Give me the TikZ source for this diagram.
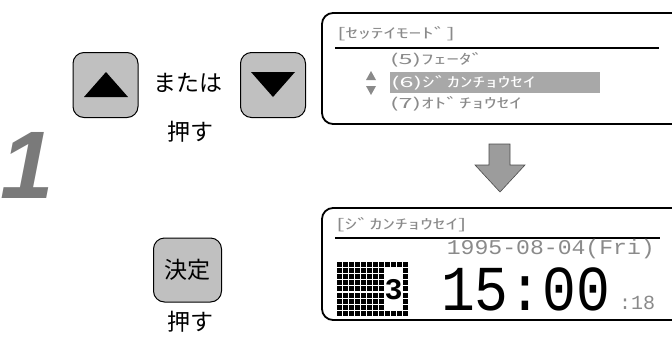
\documentclass[tikz,border=0pt]{standalone}
\usepackage{fontspec}
\setmainfont{Noto Sans CJK JP}
\newfontfamily\jpfont{Noto Sans CJK JP}
\newfontfamily\lcdfont{Noto Sans CJK JP}[FakeStretch=1.8]
\newfontfamily\monofont{Liberation Mono}
\newfontfamily\datefont{Liberation Mono}[FakeStretch=1.1]
\newfontfamily\clockfont{Liberation Mono}[FakeStretch=0.88]
\newfontfamily\numfont{Liberation Sans}
\definecolor{btngray}{HTML}{C0C0C0}
\definecolor{lcdtxt}{HTML}{8A8A8A}
\definecolor{hlgray}{HTML}{A8A8A8}
\definecolor{arrowgray}{HTML}{9C9C9C}
\definecolor{stepgray}{HTML}{7A7A7A}
\tikzset{
  btn/.style={draw=black, line width=1pt, fill=btngray, rounded corners=11pt, minimum width=65pt, minimum height=65pt, inner sep=0pt},
  lcdbox/.style={draw=black, line width=1.8pt, rounded corners=11pt},
  lcdline/.style={draw=black, line width=1.8pt},
  lbl/.style={font=\jpfont\fontsize{23}{23}\selectfont, inner sep=0pt},
  lcdtext/.style={font=\lcdfont\fontsize{14}{14}\selectfont, text=lcdtxt, inner sep=0pt, anchor=west},
  tri/.style={fill=black, draw=none}
}
\begin{document}
\begin{tikzpicture}[x=1pt,y=-1pt]
\useasboundingbox (0,0) rectangle (672,338);
\begin{scope}
\clip (0,0) rectangle (672,338);
% step number
\node[inner sep=0pt, text=stepgray, font=\numfont\bfseries\itshape\fontsize{96}{96}\selectfont] (stepnum) at (27,165) {1};
% up / down buttons
\node[btn] (up) at (105.5,85) {};
\fill[tri] (84,97) -- (128,97) -- (106,72) -- cycle;
\node[lbl] (mata) at (188,83) {または};
\node[btn] (down) at (273,85) {};
\fill[tri] (251,72) -- (295,72) -- (273,97) -- cycle;
\node[lbl] (osu1) at (190,132) {押す};
% kettei button
\node[btn, minimum width=68pt, minimum height=64pt, font=\jpfont\fontsize{23}{23}\selectfont] (kettei) at (187.5,270) {決定};
\node[lbl] (osu2) at (190,322) {押す};

% top LCD
\draw[lcdbox] (322,13) rectangle (690,124);
\coordinate (s1a) at (335,48);
\coordinate (s1b) at (659,48);
\draw[lcdline] (s1a) -- (s1b);
\node[lcdtext] (t1) at (337,34) {[ｾｯﾃｲﾓｰﾄﾞ]};
\node[lcdtext] (t2) at (390,60) {(5)ﾌｪｰﾀﾞ};
\fill[hlgray] (390,72) rectangle (600,93);
\node[lcdtext, text=white] (t3) at (391,82.5) {(6)ｼﾞｶﾝﾁｮｳｾｲ};
\node[lcdtext] (t4) at (390,104) {(7)ｵﾄﾞﾁｮｳｾｲ};
\fill[lcdtxt] (366,80) -- (376,80) -- (371,71) -- cycle;
\fill[lcdtxt] (366,86) -- (376,86) -- (371,95) -- cycle;

% gray arrow
\draw[fill=arrowgray, draw=black!70, line width=0.6pt] (489,144) -- (510,144) -- (510,165) -- (525,165) -- (500,192) -- (475,165) -- (489,165) -- cycle;

% bottom LCD
\draw[lcdbox] (322,208) rectangle (690,320);
\coordinate (s2a) at (335,238);
\coordinate (s2b) at (660,238);
\draw[lcdline] (s2a) -- (s2b);
\node[lcdtext] (b1) at (336,225) {[ｼﾞｶﾝﾁｮｳｾｲ]};
\node[lcdtext, anchor=east, font=\datefont\fontsize{21}{21}\selectfont] (date) at (655,249.5) {1995-08-04(Fri)};
% inverted block with 3
\foreach \i in {0,...,11}{
  \foreach \j in {0,...,8}{
    \fill[black] ({337+\i*6},{262+\j*6.1}) rectangle ++(5,5);
  }
}
\fill[white] (384,267) rectangle (403,311);
\node[inner sep=0pt, font=\monofont\bfseries\fontsize{30}{30}\selectfont] (sel) at (393.5,289.5) {3};
\node[inner sep=0pt, anchor=base west, text height=42pt, text depth=0pt, font=\clockfont\fontsize{64}{64}\selectfont] (clock) at (441,310) {15:00};
\node[lcdtext, anchor=base west, font=\monofont\fontsize{20}{20}\selectfont] (sec) at (619,309) {:18};
\end{scope}
\end{tikzpicture}
\end{document}
